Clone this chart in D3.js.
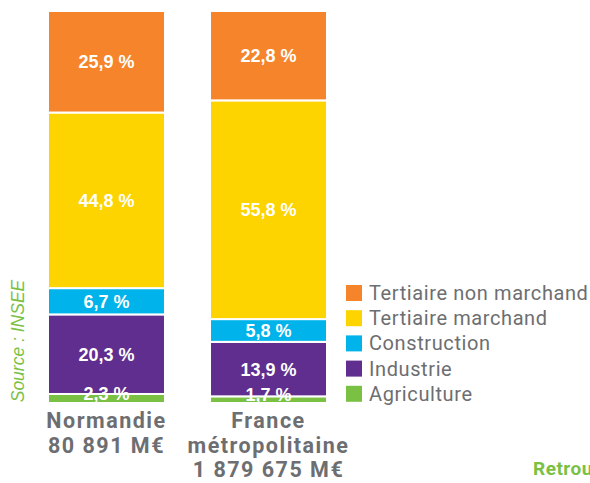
<!DOCTYPE html>
<html>
<head>
<meta charset="utf-8">
<script src="https://cdn.jsdelivr.net/npm/d3@7"></script>
<style>
  body { margin: 0; background: #fff; }
  svg { display: block; }
</style>
</head>
<body>
<div id="chart-area"></div>
<script>
// data
var regions = ["Normandie", "France métropolitaine"];
var regionLabels = [["Normandie", "80 891 M€"], ["France", "métropolitaine", "1 879 675 M€"]];
var sectors = ["Agriculture", "Industrie", "Construction", "Tertiaire marchand", "Tertiaire non marchand"];
var normandie = [2.3, 20.3, 6.7, 44.8, 25.9];
var france = [1.7, 13.9, 5.8, 55.8, 22.8];
var colors = ["#7ac143", "#5f2e8e", "#00b3ea", "#fdd300", "#f5842a"];

var width = 590, height = 483;

var svg = d3.select("#chart-area")
    .append("svg")
        .attr("width", width)
        .attr("height", height);

var x = d3.scaleBand()
    .domain(regions)
    .range([48, 327])
    .paddingInner(0.278)
    .paddingOuter(0);

var y = d3.scaleLinear()
    .domain([0, 100])
    .range([403, 11]);

var color = d3.scaleOrdinal().domain(sectors).range(colors);

// build stack table
var table = regions.map(function(r, i) {
    var row = { region: r };
    var vals = i == 0 ? normandie : france;
    sectors.forEach(function(s, j) { row[s] = vals[j]; });
    return row;
});

var series = d3.stack().keys(sectors)(table);

var layers = svg.selectAll("g.layer")
    .data(series)
    .enter().append("g")
        .attr("class", "layer")
        .attr("fill", function(d) { return color(d.key); });

layers.selectAll("rect")
    .data(function(d) { return d; })
    .enter().append("rect")
        .attr("x", function(d) { return x(d.data.region); })
        .attr("width", x.bandwidth())
        .attr("y", function(d) { return y(d[1]); })
        .attr("height", function(d) { return y(d[0]) - y(d[1]); })
        .attr("stroke", "#fff")
        .attr("stroke-width", 2);

// value labels (drawn after all rects)
var labels = svg.selectAll("g.labels")
    .data(series)
    .enter().append("g")
        .attr("class", "labels");

labels.selectAll("text")
    .data(function(d) { return d; })
    .enter().append("text")
        .attr("x", function(d) { return x(d.data.region) + x.bandwidth() / 2; })
        .attr("y", function(d) {
            var mid = (y(d[0]) + y(d[1])) / 2;
            return (y(d[0]) - y(d[1]) < 15) ? mid + 1.5 : mid + 6.5;
        })
        .attr("text-anchor", "middle")
        .attr("fill", "#fff")
        .attr("font-family", "Liberation Sans, Arial, sans-serif")
        .attr("font-weight", "bold")
        .attr("font-size", "18px")
        .text(function(d) { return String(+(d[1] - d[0]).toFixed(1)).replace(".", ",") + " %"; });

// category labels
var cat = svg.selectAll("text.cat")
    .data(regions)
    .enter().append("text")
        .attr("class", "cat")
        .attr("x", function(d) { return x(d) + x.bandwidth() / 2; })
        .attr("y", 428)
        .attr("text-anchor", "middle")
        .attr("fill", "#6d6e71")
        .attr("font-family", "Roboto, sans-serif")
        .attr("font-weight", "bold")
        .attr("font-size", "21.5px")
        .attr("letter-spacing", "1.5px");

cat.selectAll("tspan")
    .data(function(d, i) { return regionLabels[i]; })
    .enter().append("tspan")
        .attr("x", function() { var p = d3.select(this.parentNode).datum(); return x(p) + x.bandwidth() / 2; })
        .attr("dy", function(d, i) { return i == 0 ? 0 : 24.5; })
        .text(function(d) { return d; });

// legend
var legend = svg.selectAll("g.legend")
    .data(sectors.slice().reverse())
    .enter().append("g")
        .attr("class", "legend")
        .attr("transform", function(d, i) { return "translate(346," + (285 + i * 25.2) + ")"; });

legend.append("rect")
    .attr("width", 16)
    .attr("height", 16)
    .attr("fill", function(d) { return color(d); });

legend.append("text")
    .attr("x", 23)
    .attr("y", 15)
    .attr("fill", "#6d6e71")
    .attr("font-family", "Roboto, sans-serif")
    .attr("font-size", "20px")
    .attr("letter-spacing", "0.6px")
    .text(function(d) { return d; });

// source
svg.append("text")
    .attr("transform", "translate(24,341) rotate(-90)")
    .attr("text-anchor", "middle")
    .attr("fill", "#7ac143")
    .attr("font-family", "Liberation Sans, Arial, sans-serif")
    .attr("font-style", "italic")
    .attr("font-size", "17.5px")
    .text("Source : INSEE");

// link text, cut by the right edge as in the original
svg.append("text")
    .attr("x", 533)
    .attr("y", 475)
    .attr("fill", "#7ac143")
    .attr("font-family", "Roboto, sans-serif")
    .attr("font-weight", "bold")
    .attr("font-size", "19px")
    .attr("letter-spacing", "0.5px")
    .text("Retrouvez");
</script>
</body>
</html>
